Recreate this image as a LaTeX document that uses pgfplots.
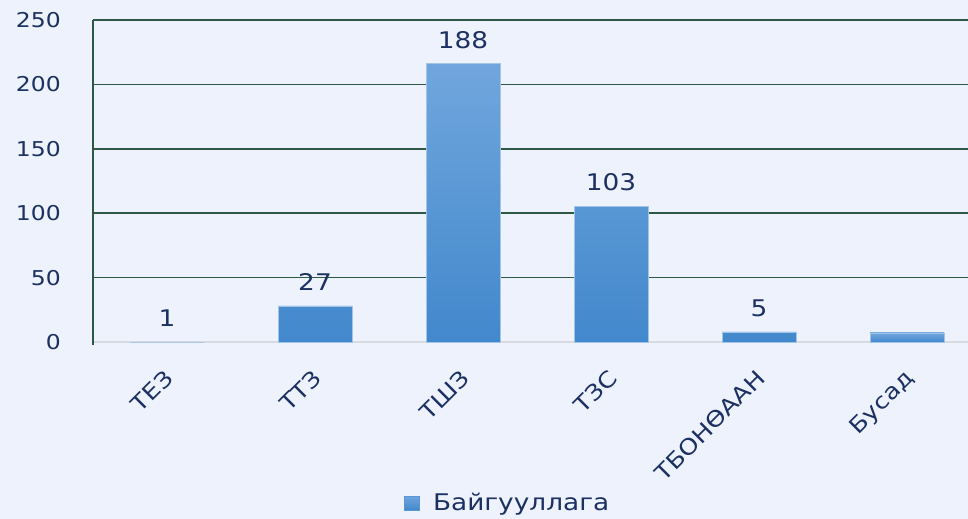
\documentclass[border=0pt]{standalone}
\usepackage{fontspec}
\setmainfont{DejaVu Sans}[FakeStretch=1.15]
\usepackage{pgfplots}
\pgfplotsset{compat=1.18}
\definecolor{bg}{RGB}{237,242,252}
\definecolor{txt}{RGB}{28,48,98}
\definecolor{gridc}{RGB}{46,88,70}
\definecolor{base}{RGB}{215,218,224}
\definecolor{bartop}{RGB}{112,166,221}
\definecolor{barbot}{RGB}{66,136,204}
\definecolor{baredge}{RGB}{160,196,234}
\definecolor{barmid}{RGB}{88,150,214}
\begin{document}
\begin{tikzpicture}
\fill[bg] (-93bp,-177bp) rectangle (875bp,342bp);
\begin{axis}[
  scale only axis, width=875bp, height=322bp,
  xmin=-0.5, xmax=5.412, ymin=0, ymax=250,
  enlargelimits=false, clip=false,
  ybar, bar width=0.5,
  xtick={0,1,2,3,4,5},
  xticklabels={ТЕЗ,ТТЗ,ТШЗ,ТЗС,ТБОНӨААН,Бусад},
  ytick={50,100,150,200,250},
  extra y ticks={0},
  extra y tick style={ymajorgrids=true, major grid style={base, line width=2bp}},
  /pgf/number format/assume math mode=true,
  major tick length=0pt,
  axis line style={draw=none},
  ymajorgrids, major grid style={gridc, line width=1.6bp},
  yticklabel style={font=\fontsize{20.5}{24}\selectfont, text=txt, anchor=east, inner sep=0pt, xshift=-32bp},
  xticklabel style={font=\fontsize{22}{24}\selectfont, text=txt, yshift=-26bp, xshift=-4bp, rotate=45, anchor=north east, inner sep=0pt},
  legend style={at={(0.474,-0.5)}, anchor=center, draw=none, fill=none,
    font=\fontsize{23}{26}\selectfont, text=txt},
  legend image code/.code={\fill[barmid] (0bp,-7bp) rectangle (15bp,7bp); \path (26bp,0bp);},
  nodes near coords style={font=\fontsize{23}{26}\selectfont, text=txt, anchor=south, inner sep=0pt, yshift=15bp},
]
\addplot[bar shift=0pt, draw=baredge, line width=0.8bp, top color=bartop, bottom color=barbot,
  point meta=explicit symbolic, nodes near coords]
  coordinates {(0,0) [1] (1,28) [27] (2,216) [188] (3,105.5) [103] (4,7.8) [5]};
\addlegendentry{Байгууллага}
\addplot[bar shift=0pt, draw=baredge, line width=0.8bp, top color=bartop, bottom color=barbot, forget plot]
  coordinates {(5,7)};
\draw[gridc, line width=2bp] (rel axis cs:0,1) -- ([yshift=-3bp]rel axis cs:0,0);
\end{axis}
\pgfresetboundingbox
\path (-93bp,-177bp) rectangle (875bp,342bp);
\end{tikzpicture}
\end{document}
